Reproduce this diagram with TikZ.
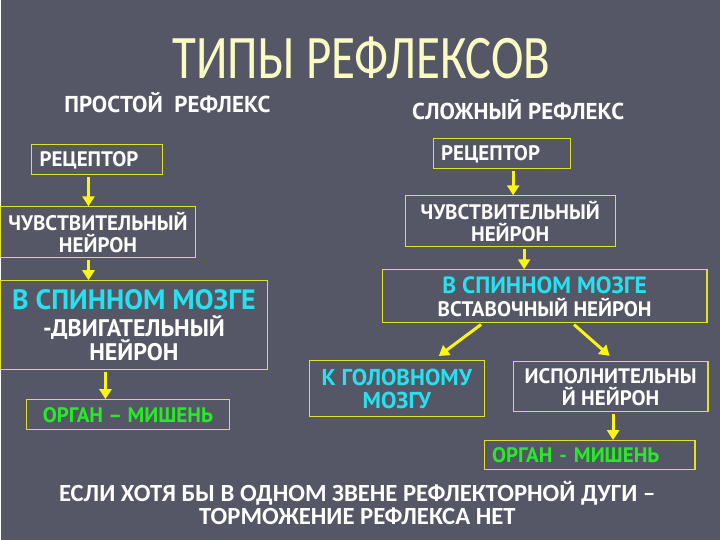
\documentclass[tikz,border=0pt]{standalone}
\usepackage{fontspec}
\setmainfont{PT Sans}
\newfontfamily\calfont{Carlito}
\newfontfamily\titlefont{Carlito}[FakeStretch=0.79]
\usetikzlibrary{arrows.meta}

\definecolor{bgcol}{RGB}{85,87,102}
\definecolor{boxline}{RGB}{225,225,40}
\definecolor{arrcol}{RGB}{250,245,20}
\definecolor{cyantxt}{RGB}{40,225,240}
\definecolor{greentxt}{RGB}{40,235,40}
\definecolor{titletxt}{RGB}{250,250,195}

\begin{document}
\begin{tikzpicture}[x=1pt,y=-1pt,
  box/.style={draw=boxline,line width=1.1pt,inner sep=0pt,align=center,text=white,font=\bfseries\fontsize{21}{22}\selectfont},
  lbox/.style={box,align=left,inner xsep=8pt,inner ysep=0pt},
  head/.style={text=white,font=\bfseries\fontsize{23}{24}\selectfont},
  arr/.style={draw=arrcol,line width=3pt,-{Triangle[width=12pt,length=10pt]},shorten <=2pt}]
  \fill[bgcol] (0,0) rectangle (720,540);
  \node[text=titletxt,font=\titlefont\fontsize{62}{66}\selectfont] (title) at (361,58) {ТИПЫ РЕФЛЕКСОВ};
  \node[head] (simple) at (167,103) {ПРОСТОЙ\ \ РЕФЛЕКС};
  \node[head] (complex) at (518,110) {СЛОЖНЫЙ РЕФЛЕКС};
  \node[lbox,text width=115pt,minimum height=30pt] (lrec) at (96.5,160) {РЕЦЕПТОР};
  \node[box,minimum width=195pt,minimum height=51pt] (lsens) at (97.5,232.5) {ЧУВСТВИТЕЛЬНЫЙ\\НЕЙРОН};
  \node[box,minimum width=267pt,minimum height=89pt,font=\bfseries\fontsize{24}{24}\selectfont] (lspin) at (133.5,325.5)
    {{\color{cyantxt}\fontsize{28}{28}\selectfont В СПИННОМ МОЗГЕ}\\[3pt]-ДВИГАТЕЛЬНЫЙ\\НЕЙРОН};
  \node[box,minimum width=203pt,minimum height=30pt,text=greentxt] (lorg) at (127.5,415) {ОРГАН – МИШЕНЬ};
  \node[lbox,text width=121pt,minimum height=30pt] (rrec) at (501.5,154) {РЕЦЕПТОР};
  \node[box,minimum width=210pt,minimum height=51pt] (rsens) at (510,221.5) {ЧУВСТВИТЕЛЬНЫЙ\\НЕЙРОН};
  \node[box,minimum width=325pt,minimum height=53pt] (rspin) at (544.5,296.5)
    {{\color{cyantxt}\fontsize{23.5}{24}\selectfont В СПИННОМ МОЗГЕ}\\[1pt]ВСТАВОЧНЫЙ НЕЙРОН};
  \node[box,minimum width=175pt,minimum height=56pt,text=cyantxt,font=\bfseries\fontsize{23}{23}\selectfont] (rhead) at (396.5,389) {К ГОЛОВНОМУ\\МОЗГУ};
  \node[box,minimum width=195pt,minimum height=50pt] (rexec) at (610.5,387) {ИСПОЛНИТЕЛЬНЫ\\Й НЕЙРОН};
  \node[lbox,text width=195pt,minimum height=29pt,text=greentxt] (rorg) at (589.5,455.5) {ОРГАН - МИШЕНЬ};
  \node[text=white,align=center,font=\calfont\bfseries\fontsize{24.7}{23}\selectfont] (note) at (357,503)
    {ЕСЛИ ХОТЯ БЫ В ОДНОМ ЗВЕНЕ РЕФЛЕКТОРНОЙ ДУГИ –\\ТОРМОЖЕНИЕ РЕФЛЕКСА НЕТ};
  \draw[arr] ([xshift=-8.5pt]lrec.south) -- ([xshift=-9.5pt]lsens.north);
  \draw[arr] ([xshift=-9.5pt]lsens.south) -- ([xshift=-45.5pt]lspin.north);
  \draw[arr] ([xshift=-28.5pt]lspin.south) -- ([xshift=-22.5pt]lorg.north);
  \draw[arr] ([xshift=11.5pt]rrec.south) -- ([xshift=3pt]rsens.north);
  \draw[arr] ([xshift=14pt]rsens.south) -- ([xshift=-20.5pt]rspin.north);
  \draw[arr,shorten >=7pt] ([xshift=-62pt]rspin.south) -- ([xshift=36.5pt]rhead.north);
  \draw[arr,shorten >=8pt] ([xshift=28pt]rspin.south) -- ([xshift=5pt]rexec.north);
  \draw[arr] ([xshift=2.5pt]rexec.south) -- ([xshift=23.5pt]rorg.north);
\end{tikzpicture}
\end{document}
